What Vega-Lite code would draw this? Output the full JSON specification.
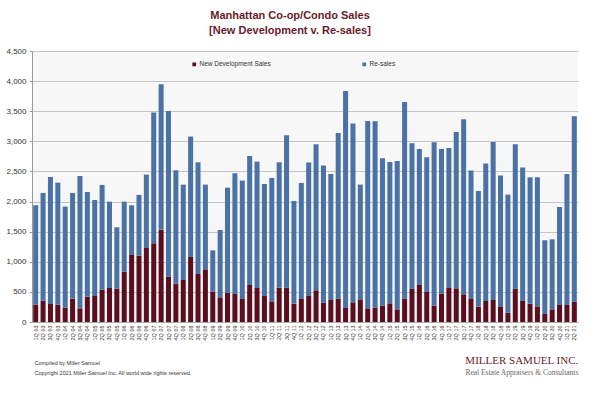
{
  "$schema": "https://vega.github.io/schema/vega-lite/v6.json",
  "autosize": {"type": "none"},
  "width": 546,
  "height": 271,
  "padding": {"left": 32, "top": 51, "right": 22, "bottom": 75},
  "background": "#ffffff",
  "title": {
    "text": ["Manhattan Co-op/Condo Sales", "[New Development v. Re-sales]"],
    "font": "Liberation Sans",
    "fontSize": 11,
    "fontWeight": "bold",
    "color": "#6b1a2b",
    "lineHeight": 15,
    "offset": 11,
    "dx": -15,
    "anchor": "middle"
  },
  "config": {
    "font": "Liberation Sans",
    "view": {"fill": "#f7f7f7", "stroke": null},
    "axisY": {
      "labelFontSize": 8,
      "labelColor": "#333333",
      "labelPadding": 3,
      "labelOverlap": false,
      "labelFlush": false,
      "labelBound": false,
      "tickSize": 3,
      "tickColor": "#999999",
      "domainColor": "#999999",
      "gridColor": "#c4c4c4",
      "gridWidth": 1
    }
  },
  "layer": [
    {
      "data": {"values": [
        {"q":"1Q 03","New Development Sales":288,"Re-sales":1650},
        {"q":"2Q 03","New Development Sales":354,"Re-sales":1789},
        {"q":"3Q 03","New Development Sales":299,"Re-sales":2110},
        {"q":"4Q 03","New Development Sales":288,"Re-sales":2026},
        {"q":"1Q 04","New Development Sales":238,"Re-sales":1678},
        {"q":"2Q 04","New Development Sales":388,"Re-sales":1755},
        {"q":"3Q 04","New Development Sales":227,"Re-sales":2198},
        {"q":"4Q 04","New Development Sales":421,"Re-sales":1738},
        {"q":"1Q 05","New Development Sales":432,"Re-sales":1595},
        {"q":"2Q 05","New Development Sales":537,"Re-sales":1739},
        {"q":"3Q 05","New Development Sales":565,"Re-sales":1434},
        {"q":"4Q 05","New Development Sales":554,"Re-sales":1019},
        {"q":"1Q 06","New Development Sales":836,"Re-sales":1163},
        {"q":"2Q 06","New Development Sales":1113,"Re-sales":825},
        {"q":"3Q 06","New Development Sales":1102,"Re-sales":1008},
        {"q":"4Q 06","New Development Sales":1229,"Re-sales":1218},
        {"q":"1Q 07","New Development Sales":1307,"Re-sales":2170},
        {"q":"2Q 07","New Development Sales":1534,"Re-sales":2414},
        {"q":"3Q 07","New Development Sales":753,"Re-sales":2752},
        {"q":"4Q 07","New Development Sales":637,"Re-sales":1882},
        {"q":"1Q 08","New Development Sales":698,"Re-sales":1583},
        {"q":"2Q 08","New Development Sales":1080,"Re-sales":1999},
        {"q":"3Q 08","New Development Sales":797,"Re-sales":1855},
        {"q":"4Q 08","New Development Sales":875,"Re-sales":1406},
        {"q":"1Q 09","New Development Sales":504,"Re-sales":686},
        {"q":"2Q 09","New Development Sales":410,"Re-sales":1118},
        {"q":"3Q 09","New Development Sales":487,"Re-sales":1744},
        {"q":"4Q 09","New Development Sales":465,"Re-sales":2005},
        {"q":"1Q 10","New Development Sales":382,"Re-sales":1966},
        {"q":"2Q 10","New Development Sales":615,"Re-sales":2142},
        {"q":"3Q 10","New Development Sales":565,"Re-sales":2098},
        {"q":"4Q 10","New Development Sales":432,"Re-sales":1860},
        {"q":"1Q 11","New Development Sales":343,"Re-sales":2049},
        {"q":"2Q 11","New Development Sales":570,"Re-sales":2082},
        {"q":"3Q 11","New Development Sales":570,"Re-sales":2531},
        {"q":"4Q 11","New Development Sales":305,"Re-sales":1705},
        {"q":"1Q 12","New Development Sales":382,"Re-sales":1927},
        {"q":"2Q 12","New Development Sales":432,"Re-sales":2215},
        {"q":"3Q 12","New Development Sales":526,"Re-sales":2425},
        {"q":"4Q 12","New Development Sales":321,"Re-sales":2276},
        {"q":"1Q 13","New Development Sales":365,"Re-sales":2093},
        {"q":"2Q 13","New Development Sales":388,"Re-sales":2751},
        {"q":"3Q 13","New Development Sales":233,"Re-sales":3604},
        {"q":"4Q 13","New Development Sales":327,"Re-sales":2968},
        {"q":"1Q 14","New Development Sales":365,"Re-sales":1916},
        {"q":"2Q 14","New Development Sales":227,"Re-sales":3112},
        {"q":"3Q 14","New Development Sales":238,"Re-sales":3095},
        {"q":"4Q 14","New Development Sales":271,"Re-sales":2448},
        {"q":"1Q 15","New Development Sales":310,"Re-sales":2348},
        {"q":"2Q 15","New Development Sales":210,"Re-sales":2464},
        {"q":"3Q 15","New Development Sales":388,"Re-sales":3266},
        {"q":"4Q 15","New Development Sales":554,"Re-sales":2414},
        {"q":"1Q 16","New Development Sales":615,"Re-sales":2259},
        {"q":"2Q 16","New Development Sales":498,"Re-sales":2237},
        {"q":"3Q 16","New Development Sales":271,"Re-sales":2713},
        {"q":"4Q 16","New Development Sales":471,"Re-sales":2403},
        {"q":"1Q 17","New Development Sales":565,"Re-sales":2325},
        {"q":"2Q 17","New Development Sales":559,"Re-sales":2597},
        {"q":"3Q 17","New Development Sales":460,"Re-sales":2907},
        {"q":"4Q 17","New Development Sales":382,"Re-sales":2132},
        {"q":"1Q 18","New Development Sales":255,"Re-sales":1921},
        {"q":"2Q 18","New Development Sales":349,"Re-sales":2281},
        {"q":"3Q 18","New Development Sales":365,"Re-sales":2625},
        {"q":"4Q 18","New Development Sales":260,"Re-sales":2171},
        {"q":"1Q 19","New Development Sales":155,"Re-sales":1960},
        {"q":"2Q 19","New Development Sales":554,"Re-sales":2397},
        {"q":"3Q 19","New Development Sales":349,"Re-sales":2215},
        {"q":"4Q 19","New Development Sales":305,"Re-sales":2098},
        {"q":"1Q 20","New Development Sales":260,"Re-sales":2143},
        {"q":"2Q 20","New Development Sales":133,"Re-sales":1224},
        {"q":"3Q 20","New Development Sales":210,"Re-sales":1163},
        {"q":"4Q 20","New Development Sales":282,"Re-sales":1628},
        {"q":"1Q 21","New Development Sales":282,"Re-sales":2176},
        {"q":"2Q 21","New Development Sales":338,"Re-sales":3078}
      ]},
      "transform": [
        {"fold": ["New Development Sales", "Re-sales"], "as": ["series", "value"]}
      ],
      "mark": {"type": "bar"},
      "encoding": {
        "x": {
          "field": "q", "type": "nominal", "sort": null,
          "scale": {"paddingInner": 0.32, "paddingOuter": 0.16},
          "axis": {
            "title": ["Compiled by Miller Samuel", "Copyright 2021 Miller Samuel Inc.  All world wide rights reserved."],
            "titleFontSize": 5.5,
            "titleFontWeight": "normal",
            "titleColor": "#333333",
            "titleAnchor": "start",
            "titleAlign": "left",
            "titleBaseline": "middle",
            "titleX": 2,
            "titleY": 40,
            "titleLineHeight": 10,
            "labelAngle": -90,
            "labelFontSize": 5.5,
            "labelColor": "#333333",
            "labelPadding": 3,
            "labelOverlap": false,
            "ticks": false,
            "domainColor": "#aaaaaa"
          }
        },
        "y": {
          "field": "value", "type": "quantitative", "stack": "zero",
          "scale": {"domain": [0, 4500], "nice": false},
          "axis": {
            "title": null,
            "values": [0, 500, 1000, 1500, 2000, 2500, 3000, 3500, 4000, 4500],
            "format": ",d"
          }
        },
        "color": {
          "field": "series", "type": "nominal",
          "scale": {"domain": ["New Development Sales", "Re-sales"], "range": ["#5b0f1e", "#4a72a6"]},
          "legend": {
            "title": null,
            "orient": "none",
            "direction": "horizontal",
            "legendX": 159,
            "legendY": 10,
            "symbolType": "square",
            "symbolSize": 14,
            "symbolStrokeWidth": 0,
            "labelFontSize": 6.5,
            "labelColor": "#333333",
            "labelOffset": 2,
            "columnPadding": 90
          }
        },
        "order": {"field": "series", "sort": "ascending"}
      }
    },
    {
      "data": {"values": [{"q": "2Q 21", "v": -648, "t": "MILLER SAMUEL INC."}]},
      "mark": {"type": "text", "align": "right", "baseline": "middle", "dx": 4, "font": "Liberation Serif", "fontSize": 11, "color": "#6b1a2b"},
      "encoding": {
        "x": {"field": "q", "type": "nominal", "sort": null},
        "y": {
          "field": "v", "type": "quantitative",
          "axis": {
            "title": null,
            "values": [0, 500, 1000, 1500, 2000, 2500, 3000, 3500, 4000, 4500],
            "format": ",d"
          }
        },
        "text": {"field": "t"}
      }
    },
    {
      "data": {"values": [{"q": "2Q 21", "v": -847, "t": "Real Estate Appraisers & Consultants"}]},
      "mark": {"type": "text", "align": "right", "baseline": "middle", "dx": 4, "font": "Liberation Serif", "fontSize": 7.5, "color": "#666666"},
      "encoding": {
        "x": {"field": "q", "type": "nominal", "sort": null},
        "y": {
          "field": "v", "type": "quantitative",
          "axis": {
            "title": null,
            "values": [0, 500, 1000, 1500, 2000, 2500, 3000, 3500, 4000, 4500],
            "format": ",d"
          }
        },
        "text": {"field": "t"}
      }
    }
  ]
}
